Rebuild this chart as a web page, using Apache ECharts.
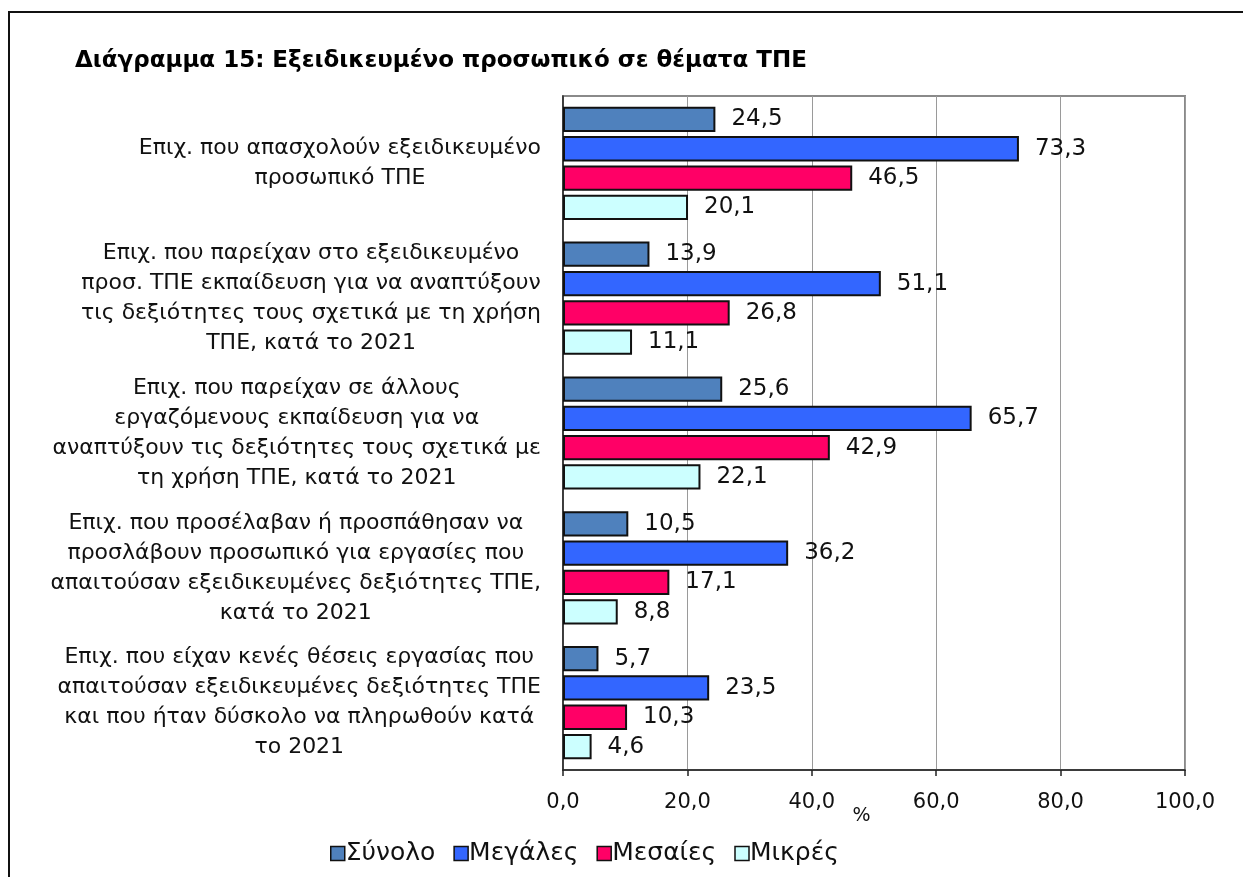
<!DOCTYPE html>
<html>
<head>
<meta charset="utf-8">
<script src="https://cdn.jsdelivr.net/npm/echarts@6/dist/echarts.min.js"></script>
<style>
  html, body { margin: 0; padding: 0; background: #fff; }
  #main { width: 1243px; height: 877px; }
</style>
</head>
<body>
<div id="main"></div>
<script>
// κατηγορίες (κάθε γραμμή = μια σειρά κειμένου)
var categories = [
    ['Επιχ. που απασχολούν εξειδικευμένο', 'προσωπικό ΤΠΕ'],
    ['Επιχ. που παρείχαν στο εξειδικευμένο', 'προσ. ΤΠΕ εκπαίδευση για να αναπτύξουν', 'τις δεξιότητες τους σχετικά με τη χρήση', 'ΤΠΕ, κατά το 2021'],
    ['Επιχ. που παρείχαν σε άλλους', 'εργαζόμενους εκπαίδευση για να', 'αναπτύξουν τις δεξιότητες τους σχετικά με', 'τη χρήση ΤΠΕ, κατά το 2021'],
    ['Επιχ. που προσέλαβαν ή προσπάθησαν να', 'προσλάβουν προσωπικό για εργασίες που', 'απαιτούσαν εξειδικευμένες δεξιότητες ΤΠΕ,', 'κατά το 2021'],
    ['Επιχ. που είχαν κενές θέσεις εργασίας που', 'απαιτούσαν εξειδικευμένες δεξιότητες ΤΠΕ', 'και που ήταν δύσκολο να πληρωθούν κατά', 'το 2021']
];
var seriesNames = ['Σύνολο', 'Μεγάλες', 'Μεσαίες', 'Μικρές'];
var synolo = [24.5, 13.9, 25.6, 10.5, 5.7];
var megales = [73.3, 51.1, 65.7, 36.2, 23.5];
var mesaies = [46.5, 26.8, 42.9, 17.1, 10.3];
var mikres = [20.1, 11.1, 22.1, 8.8, 4.6];
var xTicks = [0, 20, 40, 60, 80, 100];

var colors = ['#4f81bd', '#3366ff', '#ff0066', '#ccffff'];
var seriesData = [synolo, megales, mesaies, mikres];

var myChart = echarts.init(document.getElementById('main'));

var fontFam = '"DejaVu Sans", Verdana, sans-serif';

function fmt(v) {
    return v.toFixed(1).replace('.', ',');
}

var series = [];
for (var i = 0; i < seriesNames.length; i++) {
    series.push({
        name: seriesNames[i],
        type: 'bar',
        data: seriesData[i],
        barGap: '16%',
        barCategoryGap: '16%',
        itemStyle: {
            color: colors[i],
            borderColor: '#111',
            borderWidth: 2
        },
        label: {
            show: true,
            position: 'right',
            distance: 16,
            fontFamily: fontFam,
            fontSize: 23,
            color: '#111',
            formatter: function (p) { return fmt(p.value); }
        }
    });
}

var option = {
    animation: false,
    color: colors,
    title: {
        text: 'Διάγραμμα 15: Εξειδικευμένο προσωπικό σε θέματα ΤΠΕ',
        left: 70,
        top: 45,
        textStyle: {
            fontFamily: fontFam,
            fontSize: 23,
            fontWeight: 'bold',
            color: '#000'
        }
    },
    graphic: [{
        type: 'rect',
        shape: { x: 9, y: 12, width: 1300, height: 900 },
        style: { fill: 'none', stroke: '#111', lineWidth: 2 },
        silent: true
    }, {
        type: 'rect',
        shape: { x: 563, y: 96, width: 622, height: 674 },
        style: { fill: 'none', stroke: '#8a8a8a', lineWidth: 2 },
        silent: true,
        z: -1
    }],
    legend: {
        data: seriesNames,
        bottom: 6,
        left: 325,
        itemWidth: 14,
        itemHeight: 14,
        itemGap: 18,
        icon: 'rect',
        itemStyle: { borderColor: '#111', borderWidth: 1.5 },
        textStyle: {
            fontFamily: fontFam,
            fontSize: 25,
            color: '#111',
            padding: [0, 0, 0, -4]
        }
    },
    grid: {
        left: 563,
        right: 58,
        top: 96,
        bottom: 107,
        containLabel: false
    },
    xAxis: {
        type: 'value',
        min: 0,
        max: 100,
        interval: 20,
        name: '%',
        nameLocation: 'middle',
        nameGap: 37,
        nameMoveOverlap: false,
        nameTextStyle: {
            fontFamily: fontFam,
            fontSize: 19,
            color: '#111',
            padding: [0, 25, 0, 0]
        },
        axisLine: { show: true, lineStyle: { color: '#222', width: 1.5 } },
        axisTick: { show: true, length: 6, lineStyle: { color: '#222', width: 1.5 } },
        axisLabel: {
            fontFamily: fontFam,
            fontSize: 21,
            color: '#111',
            margin: 22,
            formatter: function (v) { return fmt(v); }
        },
        splitLine: { show: true, lineStyle: { color: '#9a9a9a', width: 1 } }
    },
    yAxis: {
        type: 'category',
        inverse: true,
        data: categories.map(function (c) { return c.join('\n'); }),
        axisLine: { show: true, lineStyle: { color: '#222', width: 1.5 } },
        axisTick: { show: false },
        axisLabel: {
            margin: 22,
            align: 'right',
            fontFamily: fontFam,
            fontSize: 22,
            color: '#111',
            lineHeight: 30,
            formatter: function (v) {
                return v.split('\n').map(function (s) { return '{c|' + s + '}'; }).join('\n');
            },
            rich: {
                c: {
                    align: 'center',
                    fontFamily: fontFam,
                    fontSize: 22,
                    color: '#111',
                    lineHeight: 30
                }
            }
        }
    },
    series: series
};

myChart.setOption(option);
</script>
</body>
</html>
